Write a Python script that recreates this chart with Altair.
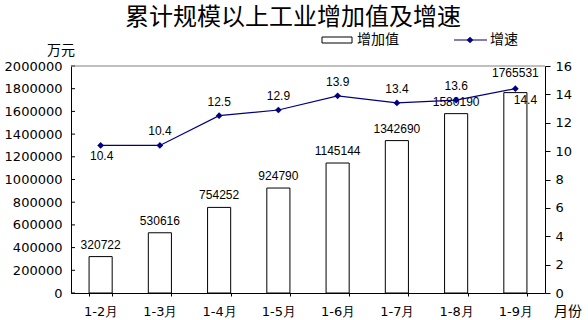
import altair as alt
import pandas as pd

months = ["1-2月", "1-3月", "1-4月", "1-5月", "1-6月", "1-7月", "1-8月", "1-9月"]
values = [320722, 530616, 754252, 924790, 1145144, 1342690, 1580190, 1765531]
growth = [10.4, 10.4, 12.5, 12.9, 13.9, 13.4, 13.6, 14.4]
left_ticks = [0, 200000, 400000, 600000, 800000, 1000000, 1200000, 1400000,
              1600000, 1800000, 2000000]
right_ticks = [0, 2, 4, 6, 8, 10, 12, 14, 16]

df = pd.DataFrame({"month": months, "value": values, "growth": growth})

W, H = 474, 227
FONT = "DejaVu Sans"
LFONT = "Liberation Sans"
CJK = "Noto Sans CJK SC"
NAVY = "#000080"

x = alt.X(
    "month:N", sort=months, title=None,
    scale=alt.Scale(paddingInner=0.61, paddingOuter=0.305),
    axis=alt.Axis(labelAngle=0, tickBand="extent", tickSize=3, labelPadding=9,
                  domainColor="black", tickColor="black", labelFont=FONT,
                  labelFontSize=13, labelColor="black", grid=False),
)

yl_axis = alt.Axis(values=left_ticks, format="d", title=None, tickSize=0,
                   labelPadding=9, labelFont=FONT, labelFontSize=13,
                   labelColor="black", domainColor="black", grid=False)
yl_scale = alt.Scale(domain=[0, 2000000], nice=False)
yl = alt.Y("value:Q", scale=yl_scale, axis=yl_axis)

yr_axis = alt.Axis(orient="right", values=right_ticks, title=None, tickSize=5,
                   labelPadding=5, labelFont=FONT, labelFontSize=13,
                   labelColor="black", domainColor="black", tickColor="black",
                   grid=False)
yr_scale = alt.Scale(domain=[0, 16], nice=False)
yr = alt.Y("growth:Q", scale=yr_scale, axis=yr_axis)

base = alt.Chart(df)

bars = base.mark_bar(fill="white", stroke="black", strokeWidth=1).encode(x=x, y=yl)
bar_text = base.transform_filter(alt.datum.month != "1-9月").mark_text(
    font=LFONT, fontSize=12, dy=-12, color="black"
).encode(x=x, y=yl, text=alt.Text("value:Q", format="d"))
bar_text_last = base.transform_filter(alt.datum.month == "1-9月").mark_text(
    font=LFONT, fontSize=12, dy=-20, color="black"
).encode(x=x, y=yl, text=alt.Text("value:Q", format="d"))

tick_df = pd.DataFrame({"v": left_ticks})
left_tick_marks = alt.Chart(tick_df).mark_rule(color="black").encode(
    y=alt.Y("v:Q", scale=yl_scale, axis=yl_axis),
    x=alt.value(0), x2=alt.value(4),
)

left = alt.layer(bars, bar_text, bar_text_last, left_tick_marks)

line = base.mark_line(color=NAVY, strokeWidth=1.2).encode(x=x, y=yr)
pts = base.mark_point(shape="diamond", filled=True, color=NAVY, size=45,
                      opacity=1).encode(x=x, y=yr)
gtext_above = base.transform_filter(
    (alt.datum.month != "1-2月") & (alt.datum.month != "1-9月")
).mark_text(font=LFONT, fontSize=12, dy=-14, color="black").encode(
    x=x, y=yr, text=alt.Text("growth:Q", format=".1f"))
gtext_first = base.transform_filter(alt.datum.month == "1-2月").mark_text(
    font=LFONT, fontSize=12, dy=11, dx=1, color="black").encode(
    x=x, y=yr, text=alt.Text("growth:Q", format=".1f"))
gtext_last = base.transform_filter(alt.datum.month == "1-9月").mark_text(
    font=LFONT, fontSize=12, dy=11, dx=10, color="black").encode(
    x=x, y=yr, text=alt.Text("growth:Q", format=".1f"))

right = alt.layer(line, pts, gtext_above, gtext_first, gtext_last)

one = alt.Data(values=[{}])
deco = [
    alt.Chart(one).mark_rule(color="#808080").encode(
        x=alt.value(0), x2=alt.value(W), y=alt.value(0)),
    alt.Chart(one).mark_text(text="累计规模以上工业增加值及增速", font=CJK,
                             fontSize=24, color="black", baseline="middle").encode(
        x=alt.value(222), y=alt.value(-48)),
    alt.Chart(one).mark_text(text="万元", font=CJK, fontSize=14, color="black",
                             baseline="middle").encode(
        x=alt.value(-10), y=alt.value(-15)),
    alt.Chart(one).mark_text(text="月份", font=CJK, fontSize=14, color="black",
                             baseline="middle").encode(
        x=alt.value(497), y=alt.value(246)),
    alt.Chart(one).mark_rect(fill="white", stroke="black", strokeWidth=1).encode(
        x=alt.value(251), x2=alt.value(281), y=alt.value(-29), y2=alt.value(-23)),
    alt.Chart(one).mark_text(text="增加值", font=CJK, fontSize=14, color="black",
                             align="left", baseline="middle").encode(
        x=alt.value(286), y=alt.value(-26)),
    alt.Chart(one).mark_rule(color=NAVY, strokeWidth=1.2).encode(
        x=alt.value(383), x2=alt.value(416), y=alt.value(-26)),
    alt.Chart(one).mark_point(shape="diamond", filled=True, color=NAVY, size=45,
                              opacity=1).encode(
        x=alt.value(399), y=alt.value(-26)),
    alt.Chart(one).mark_text(text="增速", font=CJK, fontSize=14, color="black",
                             align="left", baseline="middle").encode(
        x=alt.value(419), y=alt.value(-26)),
]

chart = alt.layer(left, right, *deco).resolve_scale(y="independent").properties(
    width=W, height=H,
    padding={"left": 71, "top": 66, "right": 43, "bottom": 27},
    autosize=alt.AutoSizeParams(type="none"),
    background="white",
).configure_view(strokeWidth=0)

chart.save("out.html", embed_options={"renderer": "svg", "actions": False})
